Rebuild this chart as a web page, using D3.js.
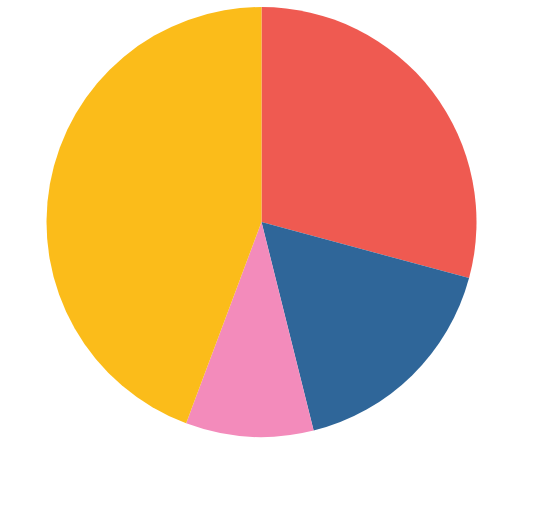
<!DOCTYPE html>
<html>
<head>
<meta charset="utf-8">
<script src="https://cdn.jsdelivr.net/npm/d3@7"></script>
<style>
  body { margin: 0; background: #fff; }
</style>
</head>
<body>
<div id="vis"></div>
<script>
const categories = ["A", "B", "C", "D"];
const values = [29.2, 16.9, 9.6, 44.3];
const colors = ["#EF5A51", "#2F6699", "#F38BBB", "#FBBC1A"];

const width = 547, height = 506;
const cx = 261.5, cy = 222, radius = 215;

const svg = d3.select("#vis").append("svg")
  .attr("width", width)
  .attr("height", height);

const data = categories.map((c, i) => ({ name: c, value: values[i] }));

const pie = d3.pie().value(d => d.value).sort(null);
const arc = d3.arc().innerRadius(0).outerRadius(radius);
const color = d3.scaleOrdinal().domain(categories).range(colors);

svg.append("g")
  .attr("transform", `translate(${cx}, ${cy})`)
  .selectAll("path")
  .data(pie(data))
  .join("path")
  .attr("d", arc)
  .attr("fill", d => color(d.data.name));
</script>
</body>
</html>
